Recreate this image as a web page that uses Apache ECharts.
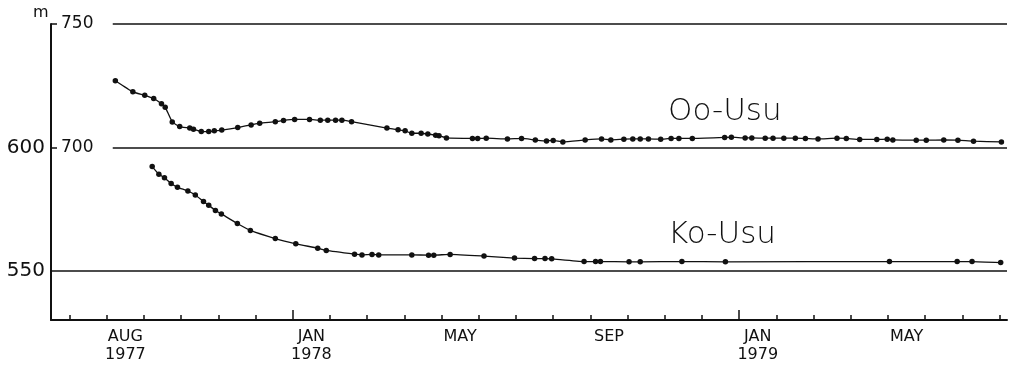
<!DOCTYPE html>
<html><head><meta charset="utf-8">
<script src="https://cdn.jsdelivr.net/npm/echarts@6/dist/echarts.min.js"></script>
<style>html,body{margin:0;padding:0;background:#fff}#c{width:1010px;height:371px}</style>
</head><body><div id="c"></div>
<script>
// Time in months since 1 July 1977 (fractional)
const ooT = [1.23,1.70,2.02,2.26,2.47,2.57,2.76,2.96,3.23,3.33,3.54,3.74,3.89,4.09,4.52,4.88,5.11,5.53,5.75,6.05,6.45,6.74,6.94,7.15,7.32,7.58,8.53,8.83,9.02,9.20,9.45,9.63,9.84,9.93,10.13,10.83,10.97,11.20,11.77,12.15,12.52,12.82,13.00,13.26,13.86,14.30,14.55,14.90,15.14,15.34,15.56,15.89,16.17,16.38,16.74,17.61,17.79,18.16,18.34,18.70,18.91,19.20,19.51,19.78,20.12,20.63,20.88,21.24,21.70,21.98,22.13,22.76,23.03,23.50,23.88,24.30,25.05];
const ooH = [727.0,722.5,721.1,719.8,717.7,716.3,710.3,708.4,707.8,707.3,706.4,706.4,706.7,707.0,708.0,709.1,709.8,710.4,710.9,711.3,711.3,711.0,711.0,711.0,711.0,710.4,707.8,707.1,706.7,705.7,705.7,705.4,704.9,704.7,703.8,703.6,703.6,703.7,703.4,703.6,703.0,702.6,702.8,702.2,703.0,703.4,703.0,703.3,703.4,703.4,703.4,703.3,703.6,703.6,703.6,704.0,704.1,703.8,703.8,703.7,703.7,703.7,703.7,703.6,703.4,703.7,703.6,703.2,703.2,703.3,703.0,702.9,702.9,703.0,702.9,702.5,702.2];
const koT = [2.22,2.40,2.55,2.73,2.90,3.18,3.38,3.60,3.74,3.92,4.08,4.51,4.86,5.53,6.08,6.67,6.90,7.66,7.86,8.13,8.31,9.20,9.65,9.79,10.23,11.14,11.96,12.50,12.78,12.96,13.83,14.14,14.27,15.04,15.34,16.46,17.63,22.04,23.86,24.26,25.03];
const koH = [592.2,589.1,587.7,585.3,583.8,582.3,580.7,578.0,576.5,574.4,573.0,569.1,566.3,563.0,560.9,559.1,558.2,556.7,556.4,556.6,556.4,556.4,556.3,556.3,556.6,555.9,555.1,554.9,554.9,554.8,553.7,553.7,553.7,553.6,553.6,553.7,553.6,553.7,553.7,553.7,553.3];
// Month boundaries (Jul 1977 = 0 ... Aug 1979 = 25)
const monthTicks = Array.from({length: 26}, (_, i) => i);
const yearTicks = [6, 18];
const xLabelPos = [1.5, 6.5, 10.5, 14.5, 18.5, 22.5];
const xLabels = ['AUG\n1977', 'JAN\n1978', 'MAY', 'SEP', 'JAN\n1979', 'MAY'];
const koTicks = [550, 600];
const ooTicks = [700, 750];

const INK = '#111';
const FONT = 'DejaVu Sans';
const zip = (a, b) => a.map((v, i) => [v, b[i]]);

const chart = echarts.init(document.getElementById('c'), null, {renderer: 'canvas'});
chart.setOption({
  animation: false,
  backgroundColor: '#fff',
  grid: {left: 51, right: 3, top: 24, bottom: 51},
  xAxis: [{
    type: 'value', min: -0.5, max: 25.2, position: 'bottom',
    axisLine: {onZero: false, lineStyle: {color: INK, width: 2}},
    axisTick: {inside: true, length: 5, customValues: monthTicks, lineStyle: {color: INK, width: 1.5}},
    axisLabel: {customValues: xLabelPos, color: INK, fontFamily: FONT, fontSize: 16, lineHeight: 18, margin: 8,
      formatter: v => { const i = xLabelPos.indexOf(v); return i >= 0 ? xLabels[i] : ''; }},
    splitLine: {show: false}
  }, {
    type: 'value', min: -0.5, max: 25.2, position: 'bottom',
    axisLine: {show: false, onZero: false},
    axisTick: {inside: true, length: 10, customValues: yearTicks, lineStyle: {color: INK, width: 1.5}},
    axisLabel: {show: false}, splitLine: {show: false}
  }],
  yAxis: [{
    type: 'value', min: 530, max: 650, position: 'left',
    axisLine: {show: true, onZero: false, lineStyle: {color: INK, width: 2}},
    axisTick: {show: true, inside: true, length: 6, customValues: [600, 650], lineStyle: {color: INK, width: 1.5}},
    axisLabel: {customValues: koTicks, color: INK, fontFamily: FONT, fontSize: 20, margin: 6},
    splitLine: {show: false}
  }, {
    type: 'value', min: 630, max: 750, position: 'left',
    axisLine: {show: false, onZero: false},
    axisTick: {show: false},
    axisLabel: {inside: true, customValues: ooTicks, color: INK, fontFamily: FONT, fontSize: 17, margin: 10},
    splitLine: {show: false}
  }],
  series: [{
    name: 'Oo-Usu', type: 'line', xAxisIndex: 0, yAxisIndex: 1,
    data: zip(ooT, ooH), symbol: 'circle', symbolSize: 5.5, smooth: 0.15,
    itemStyle: {color: INK}, lineStyle: {color: INK, width: 1.3},
    markLine: {silent: true, symbol: 'none', label: {show: false},
      lineStyle: {color: INK, width: 1.5, type: 'solid'},
      data: [[{coord: [1.16, 750]}, {coord: [25.2, 750]}], [{coord: [1.16, 700]}, {coord: [25.2, 700]}]]}
  }, {
    name: 'Ko-Usu', type: 'line', xAxisIndex: 0, yAxisIndex: 0,
    data: zip(koT, koH), symbol: 'circle', symbolSize: 5.5, smooth: 0.15,
    itemStyle: {color: INK}, lineStyle: {color: INK, width: 1.3},
    markLine: {silent: true, symbol: 'none', label: {show: false},
      lineStyle: {color: INK, width: 1.5, type: 'solid'},
      data: [[{coord: [-0.5, 550]}, {coord: [25.2, 550]}]]}
  }],
  graphic: [
    {type: 'text', left: 33, top: 5, style: {text: 'm', fill: INK, font: '16px "DejaVu Sans"'}},
    {type: 'text', x: 668, y: 112, style: {text: 'Oo-Usu', fill: INK, font: '200 31px "DejaVu Sans"', textVerticalAlign: 'middle'}},
    {type: 'text', x: 668, y: 235, style: {text: 'Ko-Usu', fill: INK, font: '200 31px "DejaVu Sans"', textVerticalAlign: 'middle'}}
  ]
});
</script></body></html>
